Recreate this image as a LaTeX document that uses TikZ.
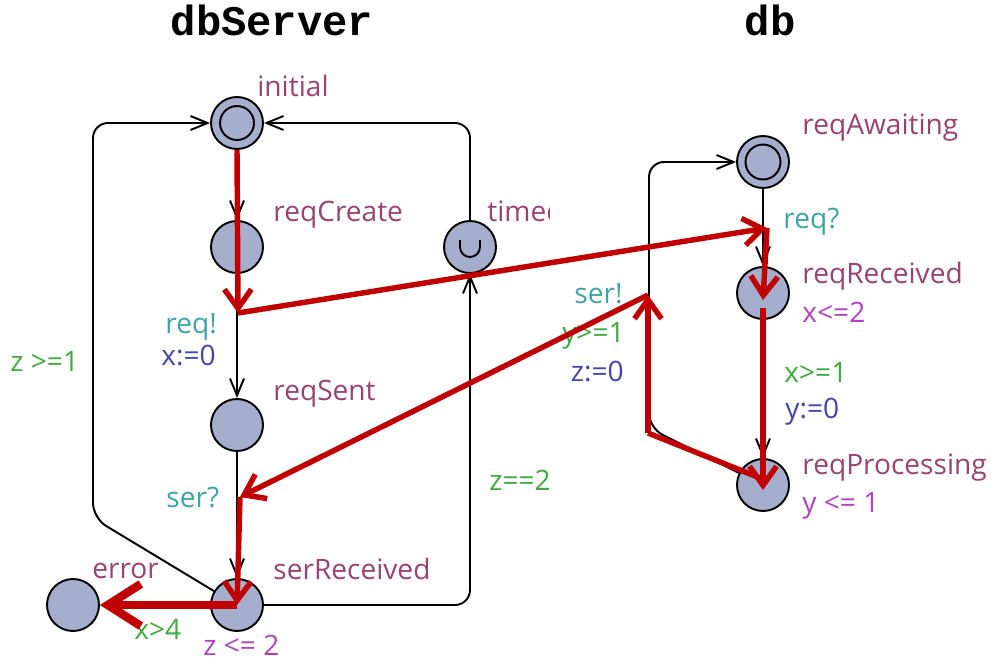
\documentclass[tikz,border=0pt]{standalone}
\usepackage{fontspec}
\setmainfont{Open Sans}
\newfontfamily\titulo{Liberation Mono}
\usetikzlibrary{arrows.meta}
\definecolor{relleno}{RGB}{165,174,204}
\definecolor{colnombre}{RGB}{153,68,112}
\definecolor{colsinc}{RGB}{64,164,164}
\definecolor{colasign}{RGB}{68,68,170}
\definecolor{colguarda}{RGB}{64,170,64}
\definecolor{colinvar}{RGB}{176,68,190}
\definecolor{rojo}{RGB}{192,0,0}
\begin{document}
\begin{tikzpicture}[x=0.02cm, y=-0.02cm,
	every node/.style={font=\fontsize{16}{18}\selectfont},
	estado/.style={circle, draw, line width=1.1pt, fill=relleno, minimum size=1.04cm, inner sep=0pt},
	etiqueta/.style={anchor=base west, inner sep=0pt},
	nombre/.style={etiqueta, text=colnombre},
	sinc/.style={etiqueta, text=colsinc},
	asign/.style={etiqueta, text=colasign},
	guarda/.style={etiqueta, text=colguarda},
	invar/.style={etiqueta, text=colinvar},
	arco/.style={draw, line width=1.1pt, rounded corners=0.3cm, -{Straight Barb[length=3.4mm,width=2.8mm]}},
	traza/.style={draw=rojo, line width=3.1pt, -{Straight Barb[length=3.8mm,width=5.4mm]}},
	trazagruesa/.style={draw=rojo, line width=4.8pt, -{Straight Barb[length=6.6mm,width=8.4mm]}}]
	\useasboundingbox (0,0) rectangle (1004,663);
	\node[anchor=base, inner sep=0pt, font=\titulo\bfseries\fontsize{24}{26}\selectfont] (tServer) at (272,35) {dbServer};
	\node[anchor=base, inner sep=0pt, font=\titulo\bfseries\fontsize{24}{26}\selectfont] (tDb) at (770,35) {db};
	\node[estado] (initial) at (237,123) {};
	\draw[line width=1.1pt] (initial) circle[radius=0.34cm];
	\node[estado] (reqCreate) at (237,247) {};
	\node[estado] (timed) at (470,247) {};
	\draw[line width=1.1pt] ([xshift=-0.2cm,yshift=0.14cm]timed.center) -- ++(0,7) arc[start angle=180, end angle=360, radius=0.2cm] -- ++(0,-7);
	\node[estado] (reqSent) at (237,425) {};
	\node[estado] (serReceived) at (237,605) {};
	\node[estado] (error) at (73,605) {};
	\node[estado] (reqAwaiting) at (763,162) {};
	\draw[line width=1.1pt] (reqAwaiting) circle[radius=0.35cm];
	\node[estado] (reqReceived) at (763,293) {};
	\node[estado] (reqProcessing) at (763,485) {};
	\draw[arco] (initial) -- (reqCreate);
	\draw[arco] (reqCreate) -- (reqSent);
	\draw[arco] (reqSent) -- (serReceived);
	\draw[arco] (serReceived) -- (470,605) -- (timed);
	\draw[arco] (timed) -- (470,123) -- (initial);
	\draw[arco] (serReceived) -- (93,518) -- (93,123) -- (initial);
	\draw[arco] (reqAwaiting) -- (reqReceived);
	\draw[arco] (reqReceived) -- (reqProcessing);
	\draw[arco] (reqProcessing) -- (649,428) -- (649,162) -- (reqAwaiting);
	\node[nombre] (nInitial) at (257,96) {initial};
	\node[nombre] (nReqCreate) at (273,221) {reqCreate};
	\begin{scope}
		\clip (480,190) rectangle (549,235);
		\node[nombre] (nTimed) at (487,221) {timed};
	\end{scope}
	\node[nombre] (nReqSent) at (273,400) {reqSent};
	\node[nombre] (nSerReceived) at (273,579) {serReceived};
	\node[nombre] (nError) at (92,578) {error};
	\node[nombre] (nReqAwaiting) at (802,134) {reqAwaiting};
	\node[nombre] (nReqReceived) at (802,283) {reqReceived};
	\node[nombre] (nReqProcessing) at (802,474) {reqProcessing};
	\node[sinc] (sReq) at (165,333) {req!};
	\node[asign] (aX) at (161,365) {x:=0};
	\node[guarda] (gZ1) at (10,371) {z >=1};
	\node[sinc] (sSer) at (166,507) {ser?};
	\node[guarda] (gZ2) at (489,490) {z==2};
	\node[guarda] (gX4) at (134,639) {x>4};
	\node[invar] (iZ) at (203,655) {z <= 2};
	\node[sinc] (sReqIn) at (783,228) {req?};
	\node[invar] (iX) at (802,322) {x<=2};
	\node[guarda] (gX1) at (784,382) {x>=1};
	\node[asign] (aY) at (785,418) {y:=0};
	\node[invar] (iY) at (802,512) {y <= 1};
	\node[sinc, anchor=base east] (sSerOut) at (623,303) {ser!};
	\node[guarda, anchor=base east] (gY1) at (625,342) {y>=1};
	\node[asign, anchor=base east] (aZ) at (624,381) {z:=0};
	\coordinate (reqOut) at (238,313);
	\coordinate (reqIn) at (767,228);
	\coordinate (serOut) at (648,295);
	\coordinate (serBend) at (648,433);
	\coordinate (serIn) at (240,497);
	\draw[traza] (initial.south) -- (reqOut);
	\draw[traza] (reqOut) -- (reqIn);
	\draw[traza] (reqIn) -- ([yshift=-0.14cm]reqReceived.center);
	\draw[traza] ([yshift=-0.3cm]reqReceived.center) -- ([yshift=-0.1cm]reqProcessing.center);
	\draw[traza, -] ([shift={(-0.06cm,0.14cm)}]reqProcessing.center) -- (serBend);
	\draw[traza] (serBend) -- (serOut);
	\draw[traza] (serOut) -- (serIn);
	\draw[traza] (serIn) -- (serReceived.center);
	\draw[trazagruesa] (serReceived.center) -- (error.east);
\end{tikzpicture}
\end{document}
